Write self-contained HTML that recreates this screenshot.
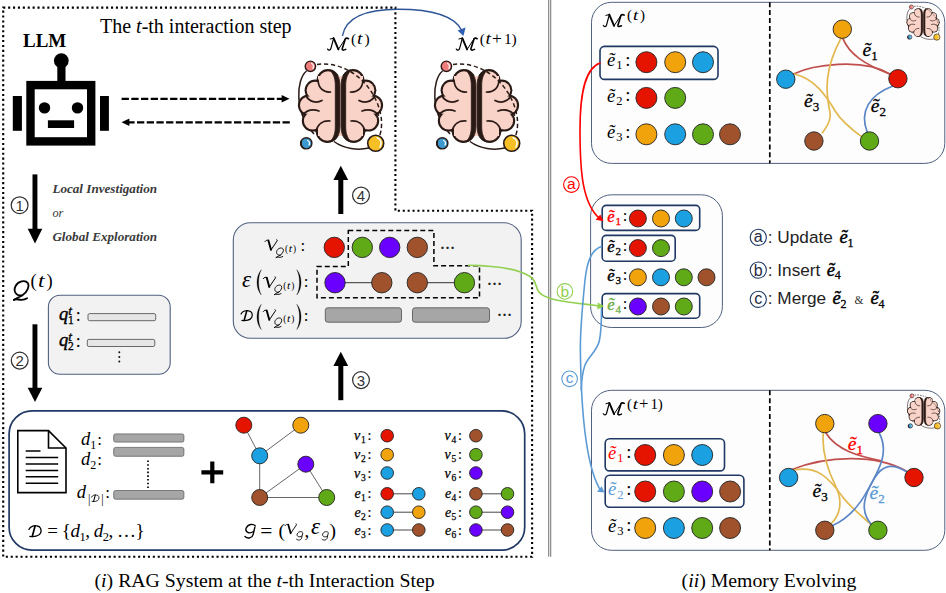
<!DOCTYPE html>
<html><head><meta charset="utf-8">
<style>
html,body{margin:0;padding:0;background:#fff;}
svg{display:block;}
text{font-family:"Liberation Serif",serif;}
text.sans,tspan.sans{font-family:"Liberation Sans",sans-serif;}
.rm{font-family:"Liberation Serif",serif;font-style:normal;}
.mi{font-family:"Liberation Serif",serif;font-style:italic;}
</style></head>
<body>
<svg width="946" height="593" viewBox="0 0 946 593">
<defs>
<marker id="ah" markerWidth="8" markerHeight="8" refX="6" refY="4" orient="auto" markerUnits="userSpaceOnUse"><path d="M0,0.5 L7,4 L0,7.5 Z" fill="#000"/></marker>
</defs>
<rect width="946" height="593" fill="#fff"/>

<!-- ===== dotted outer border (left panel) ===== -->
<path d="M3.2,7.6 H395.4 V210.8 H532.1 V556.8 H3.2 Z" fill="none" stroke="#000" stroke-width="2.1" stroke-dasharray="2.1 2.8" stroke-linecap="butt"/>

<!-- ===== double vertical separator ===== -->
<line x1="548.7" y1="0" x2="548.7" y2="556.8" stroke="#777" stroke-width="1.05"/>
<line x1="550.7" y1="0" x2="550.7" y2="556.8" stroke="#777" stroke-width="1.05"/>

<!-- ===== title / LLM ===== -->
<text x="100" y="32.7" font-size="20">The <tspan class="mi">t</tspan>-th interaction step</text>
<text x="23" y="47" font-size="19" font-weight="bold">LLM</text>

<!-- robot -->
<g id="robot" fill="#000">
<circle cx="61.3" cy="60.7" r="7.4"/>
<rect x="57.3" y="60" width="8.2" height="24"/>
<rect x="30.5" y="85.1" width="60.7" height="56.3" fill="#fff" stroke="#000" stroke-width="8.4"/>
<rect x="12.8" y="96" width="9.1" height="34.8"/>
<rect x="100" y="96" width="8.9" height="34.8"/>
<circle cx="44.5" cy="107.9" r="5.7"/>
<circle cx="77.5" cy="107.9" r="5.7"/>
<rect x="47.9" y="120.3" width="26.2" height="7.7"/>
</g>

<!-- dashed arrows LLM <-> memory -->
<line x1="121.6" y1="98.8" x2="282" y2="98.8" stroke="#000" stroke-width="2.3" stroke-dasharray="7.3 2.4"/>
<path d="M281.6,95 L289.5,98.8 L281.6,102.6 Z" fill="#000"/>
<line x1="289.8" y1="122.3" x2="128" y2="122.3" stroke="#000" stroke-width="2.3" stroke-dasharray="7.3 2.4"/>
<path d="M129.400,118.5 L121.500,122.3 L129.400,126.100 Z" fill="#000"/>

<!-- ===== thick arrows 1,2 ===== -->
<g fill="#000">
<rect x="32.5" y="174.4" width="4.9" height="56"/>
<path d="M27.7,228.8 L42.3,228.8 L35,243.6 Z"/>
<rect x="32.5" y="324.3" width="4.9" height="65"/>
<path d="M27.7,387.7 L42.3,387.7 L35,402 Z"/>
</g>
<!-- circled 1,2 -->
<g fill="none" stroke="#333" stroke-width="1.25">
<circle cx="19.6" cy="205.2" r="8.4"/>
<circle cx="19.7" cy="360.6" r="8.4"/>
</g>
<text class="sans" x="19.6" y="210.6" font-size="15" text-anchor="middle" fill="#333">1</text>
<text class="sans" x="19.7" y="366" font-size="15" text-anchor="middle" fill="#333">2</text>

<g font-style="italic" font-weight="bold" font-size="12.3" fill="#3a3a3a">
<text x="52.4" y="192.9" fill="#3a3a3a" textLength="104.7" lengthAdjust="spacingAndGlyphs">Local Investigation</text>
<text x="52.4" y="241" fill="#3a3a3a" textLength="104.7" lengthAdjust="spacingAndGlyphs">Global Exploration</text>
</g>
<text x="52.4" y="216.5" font-size="12.3" font-style="italic" fill="#3a3a3a">or</text>

<!-- Q^(t) -->
<use href="#scrQ" transform="translate(13.6,280.3)"/>
<text x="30.6" y="287.0" font-size="18.5">(</text><text class="mi" font-size="19.2" transform="translate(37.9,287.0) scale(1.22,1)">t</text><text x="46.6" y="287.0" font-size="18.5">)</text>

<!-- query box -->
<rect x="48.4" y="295.3" width="121.8" height="78.9" rx="11.5" ry="11.5" fill="#f2f2f2" stroke="#50607f" stroke-width="1.1"/>
<g fill="#e6e6e6" stroke="#5a5a5a" stroke-width="0.9">
<rect x="88" y="313.6" width="67.7" height="7.1" rx="1.6"/>
<rect x="87.3" y="339.4" width="67.500" height="7.1" rx="1.6"/>
</g>
<text class="mi" x="59" y="320.3" font-size="18.5" stroke="#000" stroke-width="0.45">q</text><text class="mi" x="68.3" y="315.0" font-size="13.5" stroke="#000" stroke-width="0.35">t</text><text x="68" y="324.3" font-size="11.5" stroke="#000" stroke-width="0.3">1</text><text x="75.8" y="320.8" font-size="18">:</text>
<text class="mi" x="59" y="346.1" font-size="18.5" stroke="#000" stroke-width="0.45">q</text><text class="mi" x="68.3" y="340.8" font-size="13.5" stroke="#000" stroke-width="0.35">t</text><text x="68" y="350.1" font-size="11.5" stroke="#000" stroke-width="0.3">2</text><text x="75.8" y="346.6" font-size="18">:</text>
<g fill="#111"><circle cx="119.3" cy="352.3" r="1"/><circle cx="119.3" cy="356.9" r="1"/><circle cx="119.3" cy="361.6" r="1"/></g>

<!-- ===== brain symbol (local coords = px, origin at 290,50) ===== -->
<defs>
<g id="scrM" fill="none" stroke="#000" stroke-linecap="round" stroke-linejoin="round">
<path d="M0.3,11.7 C1.3,13.3 2.9,13 3.5,11.4 L6.3,1" stroke-width="1.2"/>
<path d="M2.9,1.6 L6.3,0.8" stroke-width="1"/>
<path d="M6.3,0.8 L11.1,12" stroke-width="1.9"/>
<path d="M11.1,12 L18.4,0.8" stroke-width="1"/>
<path d="M21.2,1.3 C20,0.6 19,0.6 18.1,1.3 L14.9,11.4 C14.6,12.7 15.9,13.3 18.4,12" stroke-width="1.6"/>
</g>
<g id="scrQ" fill="none" stroke="#000" stroke-linecap="round" stroke-linejoin="round">
<path d="M9.1,14.8 C2.7,16.5 -0.7,11.1 2,5.7 C4.400,1 11.5,-1 14.2,2.7 C16.2,5.7 13.5,11.8 9.1,14.800 C6.1,16.5 2.7,17.9 0.3,19.6" stroke-width="1.8"/>
<path d="M0.3,19.6 C3.4,17.2 7.4,21.900 13.5,17.9" stroke-width="1.8"/>
</g>
<g id="scrV" fill="none" stroke="#000" stroke-linecap="round" stroke-linejoin="round">
<path d="M0.3,2 C1.2,0.7 2.6,0.3 3.7,1" stroke-width="1"/>
<path d="M3.7,1 L6.3,10.3" stroke-width="1.9"/>
<path d="M6.3,10.4 L12.400,1.4 C12.800,0.7 12.600,0.3 12,0.2" stroke-width="1"/>
</g>
<path id="lpar" d="M5.9,0 C0.2,6.5 0.2,18.8 5.9,25.3 C2.300,18.8 2.300,6.500 5.900,0 Z" fill="#000" stroke="#000" stroke-width="0.3"/>
<g id="scrG" fill="none" stroke="#000" stroke-linecap="round" stroke-linejoin="round" stroke-width="1.4">
<path d="M10.5,2 C8.7,-0.3 3.5,-0.3 1.5,4.1 C0,8.1 4.7,10.500 8.7,7.6"/>
<path d="M10.1,3.5 L8.5,10.5 C7.6,14.3 2.9,15.1 0.3,12.6"/>
</g>
<g id="scrD" fill="none" stroke="#000" stroke-linecap="round" stroke-linejoin="round">
<path d="M0.7,4.1 C2.1,0.7 6.9,0 8.9,0.7 C12.4,0.7 13.7,4.8 12.4,7.6 C11,11 5.5,11.7 1.6,11" stroke-width="1.3"/>
<path d="M6.9,0.7 L4.1,11" stroke-width="1.7"/>
</g>
<g id="brain">
  <path d="M16.5,21 C6,30 4,62 24,84" fill="none" stroke="#2a1a16" stroke-width="1.5"/>
  <path d="M44,91.5 C54,99 68,100.5 79,98" fill="none" stroke="#2a1a16" stroke-width="1.5"/>
  <g fill="#2a1a16"><circle cx="38.0" cy="30.6" r="11.5"/><circle cx="25.2" cy="40.2" r="10.6"/><circle cx="18.8" cy="55.3" r="10.9"/><circle cx="22.6" cy="70.8" r="10.8"/><circle cx="37.3" cy="81.4" r="11.5"/><circle cx="63.0" cy="30.6" r="11.5"/><circle cx="75.8" cy="40.2" r="10.6"/><circle cx="82.2" cy="55.3" r="10.9"/><circle cx="78.4" cy="70.8" r="10.8"/><circle cx="63.7" cy="81.4" r="11.5"/></g>
  <g fill="#f9d3c8"><circle cx="38.0" cy="30.6" r="9.4"/><circle cx="25.2" cy="40.2" r="8.5"/><circle cx="18.8" cy="55.3" r="8.8"/><circle cx="22.6" cy="70.8" r="8.7"/><circle cx="37.3" cy="81.4" r="9.4"/><circle cx="63.0" cy="30.6" r="9.4"/><circle cx="75.8" cy="40.2" r="8.5"/><circle cx="82.2" cy="55.3" r="8.8"/><circle cx="78.4" cy="70.8" r="8.7"/><circle cx="63.7" cy="81.4" r="9.4"/><rect x="28" y="26" width="45" height="60"/><rect x="20" y="38" width="61" height="36"/></g>
  <g fill="none" stroke="#2a1a16" stroke-width="1.7" stroke-linecap="round">
    <path d="M28,30 C28.5,38 33,42.5 40.5,42"/>
    <path d="M16,46 C19.5,52 26.5,53.5 32,50.5"/>
    <path d="M12.5,65 C17,60 23.5,59 29,61"/>
    <path d="M26,81.5 C27.5,74 33,70.5 40,71"/>
    <path d="M73,30 C72.5,38 68,42.5 60.5,42"/>
    <path d="M85,46 C81.5,52 74.5,53.5 69,50.5"/>
    <path d="M88.500,65 C84,60 77.5,59 72,61"/>
    <path d="M75,81.5 C73.5,74 68,70.5 61,71"/>
  </g>
  <path d="M40,20.2 C47,21.5 49.9,27 49.9,36 V76 C49.9,85 47,90.5 40,92 C44.5,87 45.3,82 45.3,76 V36 C45.3,30 44.5,25 40,20.2 Z" fill="#2a1a16" stroke="#2a1a16" stroke-width="0.8" stroke-linejoin="round"/>
  <path d="M61,20.2 C54,21.500 51.1,27 51.1,36 V76 C51.1,85 54,90.5 61,92 C56.5,87 55.7,82 55.7,76 V36 C55.7,30 56.5,25 61,20.2 Z" fill="#2a1a16" stroke="#2a1a16" stroke-width="0.8" stroke-linejoin="round"/>
  <path d="M27,14.5 C52,11 78,28 88,55 C93,68 92,80 89.500,86" fill="none" stroke="#2a1a16" stroke-width="1.5" stroke-dasharray="4.2 2.8"/>
  <circle cx="20.4" cy="16.3" r="5.2" fill="#ee7d7b" stroke="#2a1a16" stroke-width="1.4"/>
  <path d="M21.5,13.5 C23.500,14 24,16.5 23,18.5" fill="none" stroke="#fff" stroke-width="1.2" stroke-linecap="round"/>
  <circle cx="16.3" cy="93.3" r="5.6" fill="#3d9ad1" stroke="#2a1a16" stroke-width="1.4"/>
  <path d="M11.6,90.5 A5.6,5.6 0 0 0 14.6,98.800 A7,7 0 0 1 11.6,90.5 Z" fill="#2a1a16" stroke="#2a1a16" stroke-width="1.4"/>
  <path d="M17.5,90.5 C19.500,91 20,93.5 19,95" fill="none" stroke="#fff" stroke-width="1.2" stroke-linecap="round"/>
  <circle cx="85.7" cy="93.3" r="8" fill="#f6bf26" stroke="#2a1a16" stroke-width="1.6"/>
  <path d="M87,87.8 C91,88.8 92,93 90,97" fill="none" stroke="#fff" stroke-width="1.5" stroke-linecap="round"/>
</g>
</defs>
<use href="#brain" transform="translate(290,50)"/>
<use href="#brain" transform="translate(426,50)"/>

<!-- M^(t), M^(t+1) labels -->
<use href="#scrM" transform="translate(327.3,37.4)"/>
<text x="351.0" y="43.8" font-size="15.5">(</text><text class="mi" font-size="16.1" transform="translate(357.1,43.8) scale(1.22,1)">t</text><text x="364.4" y="43.8" font-size="15.5">)</text>
<use href="#scrM" transform="translate(456,37.4)"/>
<text x="479.7" y="43.8" font-size="15.5">(</text><text class="mi" font-size="16.1" transform="translate(485.6,43.8) scale(1.22,1)">t</text><text x="492.1" y="44.1" font-size="17.4">+</text><text x="503.9" y="43.8" font-size="15.5">1</text><text x="511.5" y="43.8" font-size="15.5">)</text>

<!-- blue arc arrow -->
<path d="M342.4,36 C346,16 368,9.3 398,9.3 C430,9.3 454,15 461.8,30.5" fill="none" stroke="#2f5597" stroke-width="1.4"/>
<path d="M457.6,30.4 L465.6,27.4 L463.4,36 Z" fill="#2f5fb3"/>

<!-- arrows 3 and 4 -->
<g fill="#000">
<rect x="338.3" y="178" width="5" height="36"/>
<path d="M333.4,180 L348.2,180 L340.8,165.7 Z"/>
<rect x="338.3" y="364" width="5" height="36.2"/>
<path d="M333.4,366 L348.2,366 L340.800,351.7 Z"/>
</g>
<g fill="none" stroke="#333" stroke-width="1.25">
<circle cx="361" cy="195.4" r="8.4"/>
<circle cx="361" cy="380.1" r="8.4"/>
</g>
<text class="sans" x="361" y="200.8" font-size="15" text-anchor="middle" fill="#333">4</text>
<text class="sans" x="361" y="385.500" font-size="15" text-anchor="middle" fill="#333">3</text>

<!-- ===== V box ===== -->
<rect x="233.3" y="222.800" width="287.9" height="115.5" rx="17" ry="17" fill="#f2f2f2" stroke="#50607f" stroke-width="1.1"/>
<line x1="335" y1="282.7" x2="381.8" y2="282.7" stroke="#333" stroke-width="1"/>
<line x1="417.3" y1="282.7" x2="464.4" y2="282.7" stroke="#333" stroke-width="1"/>
<circle cx="334.3" cy="247.4" r="10.2" fill="#e51400" stroke="#222" stroke-width="0.9"/><circle cx="362.3" cy="247.4" r="10.2" fill="#60a917" stroke="#222" stroke-width="0.9"/><circle cx="389.7" cy="247.4" r="10.2" fill="#6a00ff" stroke="#222" stroke-width="0.9"/><circle cx="417.3" cy="247.4" r="10.2" fill="#a0522d" stroke="#222" stroke-width="0.9"/>
<circle cx="335" cy="282.7" r="10.2" fill="#6a00ff" stroke="#222" stroke-width="0.9"/><circle cx="381.8" cy="282.7" r="10.2" fill="#a0522d" stroke="#222" stroke-width="0.9"/><circle cx="417.3" cy="282.7" r="10.2" fill="#a0522d" stroke="#222" stroke-width="0.9"/><circle cx="464.4" cy="282.7" r="10.2" fill="#60a917" stroke="#222" stroke-width="0.9"/>
<path d="M348.3,230.6 H433.9 V265.8 H479.5 V297.8 H317 V266.5 H348.3 Z" fill="none" stroke="#000" stroke-width="1.5" stroke-dasharray="5 3"/>
<g fill="#a6a6a6" stroke="#4d4d4d" stroke-width="0.8">
<rect x="325.3" y="307.8" width="76.2" height="14.4" rx="2.5"/>
<rect x="412.5" y="307.8" width="77" height="14.400" rx="2.5"/>
</g>
<g font-size="15" font-weight="bold" fill="#222">
<text x="440" y="249.2">…</text><text x="487" y="284.7">…</text><text x="497" y="315.5">…</text>
</g>
<!-- row labels -->
<g id="vq">
<use href="#scrV" transform="translate(264.7,239.5)"/>
<use href="#scrQ" transform="translate(276,247.6) scale(0.5)"/>
<text x="285.0" y="251.5" font-size="9.3">(</text><text class="mi" font-size="9.7" transform="translate(288.7,251.5) scale(1.22,1)">t</text><text x="293.0" y="251.5" font-size="9.3">)</text>
</g>
<text x="300.500" y="250.5" font-size="17">:</text>
<text class="mi" x="242" y="286.5" font-size="23">ε</text>
<use href="#lpar" transform="translate(255.4,269.7)"/>
<use href="#vq" transform="translate(-1.7,37.1)"/>
<use href="#lpar" transform="translate(302.7,269.7) scale(-1,1)"/>
<text x="303.800" y="287" font-size="17">:</text>
<use href="#scrD" transform="translate(240.4,310.2) scale(0.92)"/>
<use href="#lpar" transform="translate(255.4,304.3)"/>
<use href="#vq" transform="translate(-1.7,70)"/>
<use href="#lpar" transform="translate(302.7,304.3) scale(-1,1)"/>
<text x="303.800" y="320.5" font-size="17">:</text>

<!-- ===== bottom box ===== -->
<rect x="9.1" y="410.8" width="515.6" height="139.4" rx="23" ry="23" fill="#fff" stroke="#1f3864" stroke-width="1.7"/>
<!-- document icon -->
<path d="M17.8,430.6 H48.5 L66,448 V492.6 H17.8 Z" fill="#fff" stroke="#000" stroke-width="1.6" stroke-linejoin="miter"/>
<path d="M48.5,430.6 V448 H66" fill="none" stroke="#000" stroke-width="1.6"/>
<g stroke="#000" stroke-width="1.5">
<line x1="25.7" y1="451" x2="40.5" y2="451"/><line x1="25.7" y1="457.5" x2="58.2" y2="457.5"/><line x1="25.7" y1="464" x2="58.2" y2="464"/><line x1="25.7" y1="470.4" x2="58.2" y2="470.4"/><line x1="25.7" y1="476.800" x2="58.2" y2="476.800"/><line x1="25.7" y1="483.2" x2="58.2" y2="483.2"/>
</g>
<!-- d bars -->
<g fill="#a6a6a6" stroke="#555" stroke-width="0.7">
<rect x="113.7" y="433.9" width="70.2" height="8.2" rx="1.8"/>
<rect x="113.7" y="447.4" width="70.2" height="8.9" rx="1.8"/>
<rect x="113.7" y="490.5" width="70.2" height="8.7" rx="1.8"/>
</g>
<line x1="148" y1="460.5" x2="148" y2="488" stroke="#000" stroke-width="1.7" stroke-dasharray="1.6 2.1"/>
<text class="mi" x="81" y="445" font-size="18.5">d</text><text x="90.3" y="449" font-size="12">1</text><text x="97.3" y="445" font-size="17">:</text>
<text class="mi" x="81" y="465" font-size="18.5">d</text><text x="90.3" y="469" font-size="12">2</text><text x="97.3" y="465" font-size="17">:</text>
<text class="mi" x="76.700" y="498" font-size="18.5">d</text><text x="88" y="503" font-size="12">|</text><use href="#scrD" transform="translate(91,494.600) scale(0.62)"/><text x="101.2" y="503" font-size="12">|</text><text x="105.3" y="498" font-size="17">:</text>
<use href="#scrD" transform="translate(28.2,525.3)"/>
<text x="47.3" y="537" font-size="19" textLength="97.3" lengthAdjust="spacing">= {<tspan class="mi">d</tspan><tspan font-size="12.5" dy="4">1</tspan><tspan dy="-4">, </tspan><tspan class="mi">d</tspan><tspan font-size="12.5" dy="4">2</tspan><tspan dy="-4">, …}</tspan></text>
<!-- plus -->
<path d="M201.4,472.4 H223.2 M212.3,461.500 V483.300" stroke="#000" stroke-width="4.2" fill="none"/>
<!-- graph -->
<line x1="243.8" y1="425.2" x2="259.7" y2="455.8" stroke="#555" stroke-width="0.9"/><line x1="300.8" y1="425.2" x2="259.7" y2="455.8" stroke="#555" stroke-width="0.9"/><line x1="259.7" y1="455.8" x2="259.7" y2="497.5" stroke="#555" stroke-width="0.9"/><line x1="259.7" y1="497.5" x2="305.8" y2="464.2" stroke="#555" stroke-width="0.9"/><line x1="259.7" y1="497.5" x2="326.7" y2="497.5" stroke="#555" stroke-width="0.9"/><line x1="305.8" y1="464.2" x2="326.7" y2="497.5" stroke="#555" stroke-width="0.9"/><circle cx="243.8" cy="425.2" r="8" fill="#e51400" stroke="#222" stroke-width="0.9"/><circle cx="300.8" cy="425.2" r="8" fill="#f0a30a" stroke="#222" stroke-width="0.9"/><circle cx="259.7" cy="455.8" r="8" fill="#1ba1e2" stroke="#222" stroke-width="0.9"/><circle cx="305.8" cy="464.2" r="8" fill="#6a00ff" stroke="#222" stroke-width="0.9"/><circle cx="259.7" cy="497.5" r="8" fill="#a0522d" stroke="#222" stroke-width="0.9"/><circle cx="326.7" cy="497.5" r="8" fill="#60a917" stroke="#222" stroke-width="0.9"/>
<use href="#scrG" transform="translate(244.7,523.9)"/>
<text x="260.3" y="537.8" font-size="21.5">=</text>
<text x="278.6" y="536.500" font-size="19.5">(</text>
<use href="#scrV" transform="translate(284.8,523.7) scale(0.93)"/>
<use href="#scrG" transform="translate(296.3,531.3) scale(0.63)"/>
<text x="304.600" y="536.5" font-size="19">,</text>
<text class="mi" x="311" y="533.8" font-size="23">ε</text>
<use href="#scrG" transform="translate(321.8,531.3) scale(0.63)"/>
<text x="329.6" y="536.5" font-size="19.5">)</text>
<!-- legend -->
<g stroke="#000" stroke-width="0.25">
<circle cx="387.2" cy="435.7" r="6.3" fill="#e51400" stroke="#222" stroke-width="0.9"/><circle cx="475.9" cy="435.7" r="6.3" fill="#a0522d" stroke="#222" stroke-width="0.9"/><text class="mi" x="354" y="440.2" font-size="14">v</text><text x="361" y="443.2" font-size="9.5">1</text><text x="367.5" y="440.2" font-size="14">:</text><text class="mi" x="444.5" y="440.2" font-size="14">v</text><text x="451.5" y="443.2" font-size="9.5">4</text><text x="458" y="440.2" font-size="14">:</text><circle cx="387.2" cy="454.7" r="6.3" fill="#f0a30a" stroke="#222" stroke-width="0.9"/><circle cx="475.9" cy="454.7" r="6.3" fill="#60a917" stroke="#222" stroke-width="0.9"/><text class="mi" x="354" y="459.2" font-size="14">v</text><text x="361" y="462.2" font-size="9.5">2</text><text x="367.5" y="459.2" font-size="14">:</text><text class="mi" x="444.5" y="459.2" font-size="14">v</text><text x="451.5" y="462.2" font-size="9.5">5</text><text x="458" y="459.2" font-size="14">:</text><circle cx="387.2" cy="473" r="6.3" fill="#1ba1e2" stroke="#222" stroke-width="0.9"/><circle cx="475.9" cy="473" r="6.3" fill="#6a00ff" stroke="#222" stroke-width="0.9"/><text class="mi" x="354" y="477.5" font-size="14">v</text><text x="361" y="480.5" font-size="9.5">3</text><text x="367.5" y="477.5" font-size="14">:</text><text class="mi" x="444.5" y="477.5" font-size="14">v</text><text x="451.5" y="480.5" font-size="9.5">6</text><text x="458" y="477.5" font-size="14">:</text><line x1="387.2" y1="493.8" x2="418.8" y2="493.8" stroke="#333" stroke-width="0.9"/><line x1="475.9" y1="493.8" x2="507.5" y2="493.8" stroke="#333" stroke-width="0.9"/><circle cx="387.2" cy="493.8" r="6.3" fill="#e51400" stroke="#222" stroke-width="0.9"/><circle cx="418.8" cy="493.8" r="6.3" fill="#1ba1e2" stroke="#222" stroke-width="0.9"/><circle cx="475.9" cy="493.8" r="6.3" fill="#a0522d" stroke="#222" stroke-width="0.9"/><circle cx="507.5" cy="493.8" r="6.3" fill="#60a917" stroke="#222" stroke-width="0.9"/><text class="mi" x="354.5" y="498.3" font-size="14">e</text><text x="361" y="501.3" font-size="9.5">1</text><text x="367.5" y="498.3" font-size="14">:</text><text class="mi" x="445" y="498.3" font-size="14">e</text><text x="451.5" y="501.3" font-size="9.5">4</text><text x="458" y="498.3" font-size="14">:</text><line x1="387.2" y1="512.2" x2="418.8" y2="512.2" stroke="#333" stroke-width="0.9"/><line x1="475.9" y1="512.2" x2="507.5" y2="512.2" stroke="#333" stroke-width="0.9"/><circle cx="387.2" cy="512.2" r="6.3" fill="#1ba1e2" stroke="#222" stroke-width="0.9"/><circle cx="418.8" cy="512.2" r="6.3" fill="#f0a30a" stroke="#222" stroke-width="0.9"/><circle cx="475.9" cy="512.2" r="6.3" fill="#60a917" stroke="#222" stroke-width="0.9"/><circle cx="507.5" cy="512.2" r="6.3" fill="#6a00ff" stroke="#222" stroke-width="0.9"/><text class="mi" x="354.5" y="516.7" font-size="14">e</text><text x="361" y="519.7" font-size="9.5">2</text><text x="367.5" y="516.7" font-size="14">:</text><text class="mi" x="445" y="516.7" font-size="14">e</text><text x="451.5" y="519.7" font-size="9.5">5</text><text x="458" y="516.7" font-size="14">:</text><line x1="387.2" y1="530" x2="418.8" y2="530" stroke="#333" stroke-width="0.9"/><line x1="475.9" y1="530" x2="507.5" y2="530" stroke="#333" stroke-width="0.9"/><circle cx="387.2" cy="530" r="6.3" fill="#1ba1e2" stroke="#222" stroke-width="0.9"/><circle cx="418.8" cy="530" r="6.3" fill="#a0522d" stroke="#222" stroke-width="0.9"/><circle cx="475.9" cy="530" r="6.3" fill="#6a00ff" stroke="#222" stroke-width="0.9"/><circle cx="507.5" cy="530" r="6.3" fill="#a0522d" stroke="#222" stroke-width="0.9"/><text class="mi" x="354.5" y="534.5" font-size="14">e</text><text x="361" y="537.5" font-size="9.5">3</text><text x="367.5" y="534.5" font-size="14">:</text><text class="mi" x="445" y="534.5" font-size="14">e</text><text x="451.5" y="537.5" font-size="9.5">6</text><text x="458" y="534.5" font-size="14">:</text>
</g>
<!-- captions -->
<text x="94.5" y="586.5" font-size="19.8">(<tspan class="mi">i</tspan>) RAG System at the <tspan class="mi">t</tspan>-th Interaction Step</text>
<text x="681.6" y="586.5" font-size="19.8">(<tspan class="mi">ii</tspan>) Memory Evolving</text>

<!-- ===== right panel ===== -->
<rect x="591.5" y="2.3" width="353.3" height="161.1" rx="20" ry="20" fill="#fdfdfd" stroke="#50607f" stroke-width="1"/>
<line x1="769.8" y1="2.2" x2="769.8" y2="163.2" stroke="#000" stroke-width="1.7" stroke-dasharray="5 2.9"/>
<use href="#scrM" transform="translate(603,13.8)"/><text x="627.0" y="20.3" font-size="15">(</text><text class="mi" font-size="15.6" transform="translate(632.9,20.3) scale(1.22,1)">t</text><text x="640.0" y="20.3" font-size="15">)</text>
<rect x="600" y="46.4" width="118" height="33" rx="4.5" fill="none" stroke="#1f3864" stroke-width="1.6"/>
<text class="mi" x="606.9" y="66.0" font-size="18.5" font-weight="normal" fill="#000">ẽ</text><text x="616.2" y="69.2" font-size="12.5" font-weight="normal" fill="#000">1</text><text x="625.2" y="65.5" font-size="18.5" font-weight="normal">:</text><circle cx="646.4" cy="62.2" r="10.5" fill="#e51400" stroke="#222" stroke-width="0.9"/><circle cx="675.2" cy="62.2" r="10.5" fill="#f0a30a" stroke="#222" stroke-width="0.9"/><circle cx="703.0" cy="62.2" r="10.5" fill="#1ba1e2" stroke="#222" stroke-width="0.9"/>
<text class="mi" x="606.9" y="101.7" font-size="18.5" font-weight="normal" fill="#000">ẽ</text><text x="616.2" y="104.9" font-size="12.5" font-weight="normal" fill="#000">2</text><text x="625.2" y="101.2" font-size="18.5" font-weight="normal">:</text><circle cx="646.4" cy="97.9" r="10.5" fill="#e51400" stroke="#222" stroke-width="0.9"/><circle cx="675.2" cy="97.9" r="10.5" fill="#60a917" stroke="#222" stroke-width="0.9"/>
<text class="mi" x="606.9" y="138.1" font-size="18.5" font-weight="normal" fill="#000">ẽ</text><text x="616.2" y="141.3" font-size="12.5" font-weight="normal" fill="#000">3</text><text x="625.2" y="137.6" font-size="18.5" font-weight="normal">:</text><circle cx="646.4" cy="134.3" r="10.5" fill="#f0a30a" stroke="#222" stroke-width="0.9"/><circle cx="675.2" cy="134.3" r="10.5" fill="#1ba1e2" stroke="#222" stroke-width="0.9"/><circle cx="703.0" cy="134.3" r="10.5" fill="#60a917" stroke="#222" stroke-width="0.9"/><circle cx="730.0" cy="134.3" r="10.5" fill="#a0522d" stroke="#222" stroke-width="0.9"/>
<g fill="none" stroke-width="1.7" stroke-linecap="round">
<path d="M 793.6,74.0 C 811.7,65.3 861.7,57.0 890.9,74.5" stroke="#c0504d"/>
<path d="M 842.8,38.4 C 849.2,54.2 864.5,64.5 890.9,74.5" stroke="#c0504d"/>
<path d="M 840.9,38.4 C 824.2,69.5 825.6,91.7 829.8,111.2 C 831.7,119.5 827.0,126.5 822.3,132.9" stroke="#e2b84f"/>
<path d="M 794.5,74.0 C 814.5,79.2 825.6,94.5 835.3,111.2 C 842.3,122.3 853.4,130.7 862.3,137.1" stroke="#e2b84f"/>
<path d="M 892.3,86.2 C 870.1,94.5 859.0,111.2 867.3,132.3" stroke="#5b87c7"/>
</g>
<circle cx="842.3" cy="29.2" r="9.2" fill="#f0a30a" stroke="#222" stroke-width="0.9"/><circle cx="785.8" cy="79.2" r="9.2" fill="#1ba1e2" stroke="#222" stroke-width="0.9"/><circle cx="897.9" cy="78.7" r="9.2" fill="#e51400" stroke="#222" stroke-width="0.9"/><circle cx="813.9" cy="141.0" r="9.2" fill="#a0522d" stroke="#222" stroke-width="0.9"/><circle cx="869.5" cy="141.0" r="9.2" fill="#60a917" stroke="#222" stroke-width="0.9"/>
<text x="862.5" y="56.4" font-size="19.5" fill="#000" stroke="#000" stroke-width="0.3"><tspan class="mi">ẽ</tspan><tspan font-size="13" dy="4">1</tspan></text><text x="804.1" y="106.5" font-size="19.5" fill="#000" stroke="#000" stroke-width="0.3"><tspan class="mi">ẽ</tspan><tspan font-size="13" dy="4">3</tspan></text><text x="870.8" y="112.0" font-size="19.5" fill="#000" stroke="#000" stroke-width="0.3"><tspan class="mi">ẽ</tspan><tspan font-size="13" dy="4">2</tspan></text>
<use href="#brain" transform="translate(903.4,0.7) scale(0.39)"/>

<rect x="590.6" y="194.800" width="131.8" height="132.7" rx="21" ry="21" fill="#fdfdfd" stroke="#50607f" stroke-width="1"/>
<rect x="602.2" y="205.4" width="97.5" height="25" rx="4" fill="none" stroke="#1f3864" stroke-width="1.6"/>
<rect x="602.2" y="235.400" width="73" height="25.8" rx="4" fill="none" stroke="#1f3864" stroke-width="1.6"/>
<rect x="602.2" y="293.6" width="97.5" height="24.600" rx="4" fill="none" stroke="#1f3864" stroke-width="1.6"/>
<text class="mi" x="607.3" y="221.9" font-size="16.5" stroke="#ff0000" stroke-width="0.4" fill="#ff0000">ẽ</text><text x="615.5" y="225.1" font-size="11" stroke="#ff0000" stroke-width="0.3" fill="#ff0000">1</text><text x="622.8" y="221.4" font-size="16.5">:</text><circle cx="637.9" cy="218.5" r="8.5" fill="#e51400" stroke="#222" stroke-width="0.9"/><circle cx="661.0" cy="218.5" r="8.5" fill="#f0a30a" stroke="#222" stroke-width="0.9"/><circle cx="683.8" cy="218.5" r="8.5" fill="#1ba1e2" stroke="#222" stroke-width="0.9"/>
<text class="mi" x="607.3" y="251.5" font-size="16.5" stroke="#000" stroke-width="0.4" fill="#000">ẽ</text><text x="615.5" y="254.7" font-size="11" stroke="#000" stroke-width="0.3" fill="#000">2</text><text x="622.8" y="251.0" font-size="16.5">:</text><circle cx="637.9" cy="248.1" r="8.5" fill="#e51400" stroke="#222" stroke-width="0.9"/><circle cx="661.0" cy="248.1" r="8.5" fill="#60a917" stroke="#222" stroke-width="0.9"/>
<text class="mi" x="607.3" y="280.7" font-size="16.5" stroke="#000" stroke-width="0.4" fill="#000">ẽ</text><text x="615.5" y="283.9" font-size="11" stroke="#000" stroke-width="0.3" fill="#000">3</text><text x="622.8" y="280.2" font-size="16.5">:</text><circle cx="637.9" cy="277.3" r="8.5" fill="#f0a30a" stroke="#222" stroke-width="0.9"/><circle cx="661.0" cy="277.3" r="8.5" fill="#1ba1e2" stroke="#222" stroke-width="0.9"/><circle cx="683.8" cy="277.3" r="8.5" fill="#60a917" stroke="#222" stroke-width="0.9"/><circle cx="706.5" cy="277.3" r="8.5" fill="#a0522d" stroke="#222" stroke-width="0.9"/>
<text class="mi" x="607.3" y="309.9" font-size="16.5" stroke="#70ad47" stroke-width="0.4" fill="#70ad47">ẽ</text><text x="615.5" y="313.1" font-size="11" stroke="#70ad47" stroke-width="0.3" fill="#70ad47">4</text><text x="622.8" y="309.4" font-size="16.5">:</text><circle cx="637.9" cy="306.5" r="8.5" fill="#6a00ff" stroke="#222" stroke-width="0.9"/><circle cx="661.0" cy="306.5" r="8.5" fill="#a0522d" stroke="#222" stroke-width="0.9"/><circle cx="683.8" cy="306.5" r="8.5" fill="#60a917" stroke="#222" stroke-width="0.9"/>

<rect x="591.5" y="390.3" width="353.3" height="160" rx="20" ry="20" fill="#fdfdfd" stroke="#50607f" stroke-width="1"/>
<line x1="769.8" y1="390.3" x2="769.8" y2="550.3" stroke="#000" stroke-width="1.7" stroke-dasharray="5 2.9"/>
<use href="#scrM" transform="translate(603,402.1)"/><text x="627.0" y="408.6" font-size="15">(</text><text class="mi" font-size="15.6" transform="translate(632.7,408.6) scale(1.22,1)">t</text><text x="639.0" y="408.9" font-size="16.8">+</text><text x="650.4" y="408.6" font-size="15">1</text><text x="657.8" y="408.6" font-size="15">)</text>
<rect x="605.2" y="438.7" width="119.3" height="32.2" rx="4.5" fill="none" stroke="#1f3864" stroke-width="1.6"/>
<rect x="605.2" y="475.2" width="138.7" height="32.1" rx="4.5" fill="none" stroke="#1f3864" stroke-width="1.6"/>
<text class="mi" x="608.0" y="458.8" font-size="18.5" font-weight="normal" fill="#ff0000">ẽ</text><text x="617.3" y="462.0" font-size="12.5" font-weight="normal" fill="#ff0000">1</text><text x="626.3" y="458.3" font-size="18.5" font-weight="normal">:</text><circle cx="645.2" cy="455.0" r="10.5" fill="#e51400" stroke="#222" stroke-width="0.9"/><circle cx="673.9" cy="455.0" r="10.5" fill="#f0a30a" stroke="#222" stroke-width="0.9"/><circle cx="702.2" cy="455.0" r="10.5" fill="#1ba1e2" stroke="#222" stroke-width="0.9"/>
<text class="mi" x="608.0" y="495.3" font-size="18.5" font-weight="normal" fill="#5b9bd5">ẽ</text><text x="617.3" y="498.5" font-size="12.5" font-weight="normal" fill="#5b9bd5">2</text><text x="626.3" y="494.8" font-size="18.5" font-weight="normal">:</text><circle cx="645.2" cy="491.5" r="10.5" fill="#e51400" stroke="#222" stroke-width="0.9"/><circle cx="673.9" cy="491.5" r="10.5" fill="#60a917" stroke="#222" stroke-width="0.9"/><circle cx="702.2" cy="491.5" r="10.5" fill="#6a00ff" stroke="#222" stroke-width="0.9"/><circle cx="730.1" cy="491.5" r="10.5" fill="#a0522d" stroke="#222" stroke-width="0.9"/>
<text class="mi" x="608.0" y="531.8" font-size="18.5" font-weight="normal" fill="#000">ẽ</text><text x="617.3" y="535.0" font-size="12.5" font-weight="normal" fill="#000">3</text><text x="626.3" y="531.3" font-size="18.5" font-weight="normal">:</text><circle cx="645.2" cy="528.0" r="10.5" fill="#f0a30a" stroke="#222" stroke-width="0.9"/><circle cx="673.9" cy="528.0" r="10.5" fill="#1ba1e2" stroke="#222" stroke-width="0.9"/><circle cx="702.2" cy="528.0" r="10.5" fill="#60a917" stroke="#222" stroke-width="0.9"/><circle cx="730.1" cy="528.0" r="10.5" fill="#a0522d" stroke="#222" stroke-width="0.9"/>
<g fill="none" stroke-width="1.7" stroke-linecap="round">
<path d="M 792.2,469.5 C 825.6,456.1 875.6,453.3 906.8,471.4" stroke="#c0504d"/>
<path d="M 825.6,432.5 C 836.7,450.6 859.0,456.1 881.2,460.8" stroke="#c0504d"/>
<path d="M 823.4,432.5 C 821.4,451.9 827.0,468.6 835.3,485.3 C 843.7,502.0 839.5,515.9 831.2,523.4" stroke="#e2b84f"/>
<path d="M 793.6,470.0 C 817.3,465.8 828.4,477.0 842.3,496.4 C 850.6,507.5 863.1,517.3 871.5,524.8" stroke="#e2b84f"/>
<path d="M 879.0,432.5 C 889.5,451.9 879.8,468.6 867.3,490.9 C 859.0,506.2 847.8,518.7 832.6,525.6" stroke="#5b87c7"/>
<path d="M 906.2,471.4 C 892.3,463.1 882.6,464.5 874.3,478.4 C 864.5,495.0 859.0,510.3 871.5,524.8" stroke="#5b87c7"/>
</g>
<circle cx="824.8" cy="423.6" r="9.2" fill="#f0a30a" stroke="#222" stroke-width="0.9"/><circle cx="877.9" cy="423.6" r="9.2" fill="#6a00ff" stroke="#222" stroke-width="0.9"/><circle cx="788.6" cy="477.5" r="9.2" fill="#1ba1e2" stroke="#222" stroke-width="0.9"/><circle cx="914.0" cy="477.5" r="9.2" fill="#e51400" stroke="#222" stroke-width="0.9"/><circle cx="824.8" cy="530.3" r="9.2" fill="#a0522d" stroke="#222" stroke-width="0.9"/><circle cx="877.9" cy="530.3" r="9.2" fill="#60a917" stroke="#222" stroke-width="0.9"/>
<text x="847.8" y="450.0" font-size="19.5" fill="#ff0000" stroke="#ff0000" stroke-width="0.3"><tspan class="mi">ẽ</tspan><tspan font-size="13" dy="4">1</tspan></text><text x="812.5" y="497.3" font-size="19.5" fill="#000" stroke="#000" stroke-width="0.3"><tspan class="mi">ẽ</tspan><tspan font-size="13" dy="4">3</tspan></text><text x="869.5" y="498.6" font-size="19.5" fill="#5b9bd5" stroke="#5b9bd5" stroke-width="0.3"><tspan class="mi">ẽ</tspan><tspan font-size="13" dy="4">2</tspan></text>
<use href="#brain" transform="translate(904,389.5) scale(0.39)"/>

<!-- ===== curved arrows a,b,c ===== -->
<g fill="none" stroke-width="1.6" stroke-linecap="round">
<path d="M600,63 C583,69 580,100 580,130 C580,170 582,203 599.5,218.5" stroke="#ff0000"/>
<path d="M468.5,265.2 C490,265.5 515,267 530,276.5 C537,281 535,287 539,292 C545,300 565,302 599,305.8" stroke="#92d050"/>
<path d="M601.5,246.5 C591,250 587,262 585,280 C582,310 580,335 580.4,352 C581,400 584,465 601,491" stroke="#5b9bd5"/>
<path d="M601.5,308.5 C601.5,320 601.3,332 599.3,341 C597,351 588,357 585,365 C582.8,371 581.6,380 581.2,390" stroke="#5b9bd5"/>
</g>
<path d="M603.6,221.3 L595.6,219.800 L600.300,214.600 Z" fill="#ff0000"/>
<path d="M604,306.3 L597.2,309.6 L597.800,302.4 Z" fill="#92d050"/>
<path d="M604.5,492.500 L597.000,491.700 L601.700,486.300 Z" fill="#5b9bd5"/>
<g fill="none" stroke-width="1.1">
<circle cx="571.4" cy="184.6" r="7.8" stroke="#ff0000"/>
<circle cx="564.9" cy="291.4" r="7.8" stroke="#92d050"/>
<circle cx="569.6" cy="378.8" r="7.8" stroke="#5b9bd5"/>
</g>
<g font-size="15.5" text-anchor="middle">
<text class="sans" x="571.4" y="189" fill="#ff0000">a</text>
<text class="sans" x="564.9" y="296.800" fill="#92d050">b</text>
<text class="sans" x="569.6" y="383.2" fill="#5b9bd5">c</text>
</g>

<!-- ===== right legend ===== -->
<g fill="none" stroke="#1f3864" stroke-width="1.1">
<circle cx="758.3" cy="237.3" r="8.1"/><circle cx="758.3" cy="270.1" r="8.1"/><circle cx="758.3" cy="299.3" r="8.1"/>
</g>
<g font-size="16" text-anchor="middle" fill="#1f2a44">
<text class="sans" x="758.3" y="241.9">a</text><text class="sans" x="758.3" y="275.6">b</text><text class="sans" x="758.3" y="303.900">c</text>
</g>
<g font-size="17.2" fill="#222">
<text class="sans" x="767.8" y="242.8">: Update</text>
<text class="sans" x="767.8" y="275.6">: Insert</text>
<text class="sans" x="767.8" y="304.3">: Merge</text>
</g>
<text x="839.4" y="242.8" font-size="18.5" stroke="#000" stroke-width="0.45" class="mi">ẽ</text><text x="847.4" y="246.60000000000002" font-size="12" stroke="#000" stroke-width="0.3">1</text><text x="826.7" y="275.6" font-size="18.5" stroke="#000" stroke-width="0.45" class="mi">ẽ</text><text x="834.7" y="279.40000000000003" font-size="12" stroke="#000" stroke-width="0.3">4</text><text x="832.6" y="304.3" font-size="18.5" stroke="#000" stroke-width="0.45" class="mi">ẽ</text><text x="840.6" y="308.1" font-size="12" stroke="#000" stroke-width="0.3">2</text><text x="870.6" y="304.3" font-size="18.5" stroke="#000" stroke-width="0.45" class="mi">ẽ</text><text x="878.6" y="308.1" font-size="12" stroke="#000" stroke-width="0.3">4</text>
<text x="854.4" y="304" font-size="11.5" fill="#333">&amp;</text>
<!--SECTION8-->
</svg>
</body></html>
